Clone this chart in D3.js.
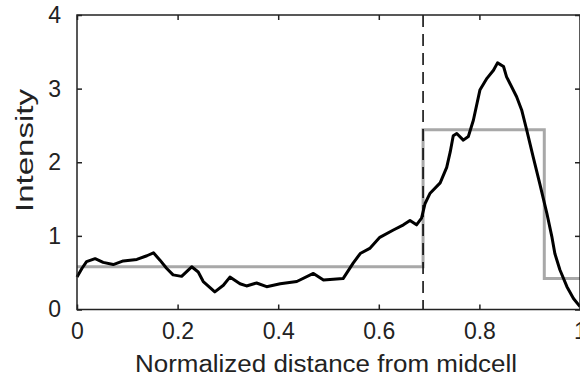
<!DOCTYPE html>
<html>
<head>
<meta charset="utf-8">
<script src="https://cdn.jsdelivr.net/npm/d3@7"></script>
<style>
  body { margin: 0; background: #fff; }
  svg { display: block; }
  text { font-family: "Liberation Sans", Arial, sans-serif; fill: #222; }
</style>
</head>
<body>
<svg id="chart" width="580" height="381"></svg>
<script>
// intensity profile along the cell (black curve)
const posX = [0, 0.010, 0.019, 0.036, 0.052, 0.072, 0.092, 0.119, 0.139, 0.152, 0.165, 0.178, 0.191, 0.208,
  0.228, 0.241, 0.251, 0.274, 0.291, 0.304, 0.324, 0.337, 0.357, 0.377, 0.404, 0.437, 0.47, 0.49, 0.529,
  0.549, 0.563, 0.582, 0.602, 0.629, 0.649, 0.662, 0.675, 0.685, 0.692, 0.702, 0.722, 0.735, 0.742, 0.748,
  0.755, 0.768, 0.778, 0.788, 0.801, 0.815, 0.828, 0.836, 0.848, 0.854, 0.874, 0.884, 0.894, 0.907, 0.920,
  0.934, 0.944, 0.950, 0.960, 0.974, 0.987, 1.0];
const intensity = [0.44, 0.56, 0.65, 0.69, 0.64, 0.61, 0.66, 0.68, 0.73, 0.77, 0.67, 0.56, 0.47, 0.45,
  0.58, 0.51, 0.38, 0.24, 0.33, 0.44, 0.35, 0.32, 0.36, 0.31, 0.35, 0.38, 0.49, 0.40, 0.42,
  0.63, 0.76, 0.83, 0.98, 1.08, 1.15, 1.21, 1.15, 1.24, 1.44, 1.58, 1.72, 1.93, 2.14, 2.36,
  2.39, 2.30, 2.35, 2.57, 2.98, 3.14, 3.25, 3.35, 3.30, 3.16, 2.89, 2.71, 2.44, 2.07, 1.71,
  1.31, 0.99, 0.76, 0.54, 0.31, 0.15, 0.04];

// binned mean (gray step)
const binEdges = [0, 0.688, 0.929, 1];
const binLevels = [0.58, 2.44, 0.42];

// dashed marker
const dashX = 0.688;

const xTicks = [0, 0.2, 0.4, 0.6, 0.8, 1];
const yTicks = [0, 1, 2, 3, 4];
const xLabel = "Normalized distance from midcell";
const yLabel = "Intensity";

const padL = 77, padR = 580, padT = 15, padB = 309.5;

const svg = d3.select("#chart");

const x = d3.scaleLinear().domain([0, 1]).range([padL, padR]);
const y = d3.scaleLinear().domain([0, 4]).range([padB, padT]);

const axisCol = "#222";

// step data from bins
const stepData = binLevels.map((v, i) => [binEdges[i], v]);
stepData.push([binEdges[binEdges.length - 1], binLevels[binLevels.length - 1]]);

svg.append("path")
  .datum(stepData)
  .attr("fill", "none")
  .attr("stroke", "#a8a8a8")
  .attr("stroke-width", 3)
  .attr("d", d3.line().x(d => x(d[0])).y(d => y(d[1])).curve(d3.curveStepAfter));

// dashed vertical
svg.append("line")
  .attr("x1", x(dashX)).attr("x2", x(dashX))
  .attr("y1", y(4)).attr("y2", y(0))
  .attr("stroke", "#000")
  .attr("stroke-width", 1.5)
  .attr("stroke-dasharray", "12,7");

// intensity curve
svg.append("path")
  .datum(posX.map((v, i) => [v, intensity[i]]))
  .attr("fill", "none")
  .attr("stroke", "#000")
  .attr("stroke-width", 3)
  .attr("stroke-linejoin", "round")
  .attr("d", d3.line().x(d => x(d[0])).y(d => y(d[1])));

// axes box
svg.append("rect")
  .attr("x", padL).attr("y", padT)
  .attr("width", padR - padL).attr("height", padB - padT)
  .attr("fill", "none")
  .attr("stroke", axisCol)
  .attr("stroke-width", 1.5);

const tickLen = 5;

// bottom axis
const gx = svg.append("g").attr("transform", "translate(0," + padB + ")")
  .call(d3.axisBottom(x).tickValues(xTicks).tickFormat(d => d === 0 || d === 1 ? d3.format("d")(d) : d3.format(".1f")(d))
    .tickSizeInner(-tickLen).tickSizeOuter(0).tickPadding(13));
gx.select(".domain").remove();
gx.selectAll("line").attr("stroke", axisCol).attr("stroke-width", 1.5);
gx.selectAll("text").attr("font-size", 23).attr("fill", "#222")
  .attr("font-family", "'Liberation Sans', Arial, sans-serif");

// top ticks
const gt = svg.append("g").attr("transform", "translate(0," + padT + ")")
  .call(d3.axisTop(x).tickValues(xTicks).tickSizeInner(-tickLen).tickSizeOuter(0).tickFormat(""));
gt.select(".domain").remove();
gt.selectAll("line").attr("stroke", axisCol).attr("stroke-width", 1.5);

// left axis
const gy = svg.append("g").attr("transform", "translate(" + padL + ",0)")
  .call(d3.axisLeft(y).tickValues(yTicks).tickFormat(d3.format("d"))
    .tickSizeInner(-tickLen).tickSizeOuter(0).tickPadding(16));
gy.select(".domain").remove();
gy.selectAll("line").attr("stroke", axisCol).attr("stroke-width", 1.5);
gy.selectAll("text").attr("font-size", 23).attr("fill", "#222")
  .attr("font-family", "'Liberation Sans', Arial, sans-serif");

// right ticks
const gr = svg.append("g").attr("transform", "translate(" + padR + ",0)")
  .call(d3.axisRight(y).tickValues(yTicks).tickSizeInner(-tickLen).tickSizeOuter(0).tickFormat(""));
gr.select(".domain").remove();
gr.selectAll("line").attr("stroke", axisCol).attr("stroke-width", 1.5);

// axis labels
svg.append("text")
  .attr("x", 135).attr("y", 372)
  .attr("font-size", 23)
  .attr("textLength", 382)
  .attr("lengthAdjust", "spacingAndGlyphs")
  .text(xLabel);

svg.append("text")
  .attr("transform", "translate(33,212) rotate(-90)")
  .attr("font-size", 23)
  .attr("textLength", 123)
  .attr("lengthAdjust", "spacingAndGlyphs")
  .text(yLabel);
</script>
</body>
</html>
